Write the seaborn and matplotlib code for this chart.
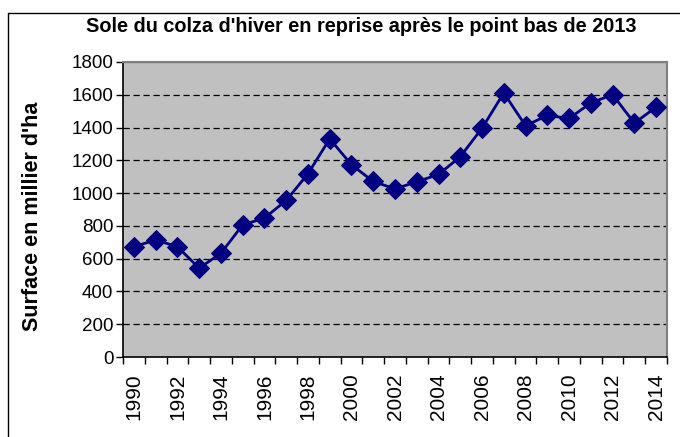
import matplotlib
matplotlib.use("Agg")
import matplotlib.pyplot as plt
from matplotlib.lines import Line2D
import seaborn as sns
import pandas as pd

# Surface de colza d'hiver (milliers d'ha)
years = list(range(1990, 2015))
surface = [673, 714, 673, 542, 633, 806, 848, 955, 1118, 1331,
           1173, 1071, 1026, 1069, 1114, 1222, 1396, 1611, 1411, 1474,
           1456, 1550, 1601, 1427, 1525]
yticks = list(range(0, 1801, 200))
xlabels = [str(y) for y in years[::2]]

df = pd.DataFrame({"annee": years, "surface": surface})

sns.set_style("white")
plt.rcParams["font.family"] = ["Liberation Sans", "DejaVu Sans"]
plt.rcParams["text.color"] = "black"
plt.rcParams["xtick.color"] = "black"
plt.rcParams["ytick.color"] = "black"

fig = plt.figure(figsize=(6.8, 4.37), dpi=100)
ax = fig.add_axes([123 / 680, 80 / 437, 544 / 680, 295 / 437])
ax.set_facecolor("#C0C0C0")

sns.lineplot(data=df, x="annee", y="surface", ax=ax, color="#000080",
             marker="D", markersize=10, linewidth=2, markeredgecolor="#000080",
             zorder=3)

ax.set_xlim(years[0] - 0.5, years[-1] + 0.5)
ax.set_ylim(0, 1800)
ax.set_yticks(yticks)
ax.set_yticklabels([str(v) for v in yticks], fontsize=13.5)
ax.set_xticks(years[::2])
ax.set_xticklabels(xlabels, rotation=90, fontsize=15)
ax.set_xticks([y - 0.5 for y in years] + [years[-1] + 0.5], minor=True)
ax.tick_params(axis="x", which="major", length=0, pad=12)
ax.tick_params(axis="x", which="minor", length=5, width=1, color="black",
               direction="out", bottom=True)
ax.tick_params(axis="y", length=5, width=1, color="black", direction="out",
               left=True, pad=2)
ax.set_xlabel("")
ax.set_ylabel("")

for y in yticks[1:-1]:
    ax.axhline(y, color="black", linestyle=(0, (5, 3)), linewidth=0.9, zorder=1)
ax.axhline(1800, color="#808080", linewidth=1, zorder=1)

for side in ["top", "right"]:
    ax.spines[side].set_visible(True)
    ax.spines[side].set_color("#808080")
    ax.spines[side].set_linewidth(1.5)
for side in ["left", "bottom"]:
    ax.spines[side].set_color("black")
    ax.spines[side].set_linewidth(1.2)

fig.text(361 / 680, 1 - 26 / 437,
         "Sole du colza d'hiver en reprise après le point bas de 2013",
         ha="center", va="center", fontsize=14.3, fontweight="bold")
fig.text(33 / 680, 1 - 216 / 437, "Surface en millier d'ha", rotation=90,
         ha="center", va="center", fontsize=15.5, fontweight="bold")

# cadre du graphique
fig.add_artist(Line2D([8 / 680, 1], [1 - 13 / 437, 1 - 13 / 437],
                      transform=fig.transFigure, color="black", linewidth=1))
fig.add_artist(Line2D([8 / 680, 8 / 680], [0, 1 - 13 / 437],
                      transform=fig.transFigure, color="black", linewidth=1))

fig.savefig("out.png", dpi=100)
